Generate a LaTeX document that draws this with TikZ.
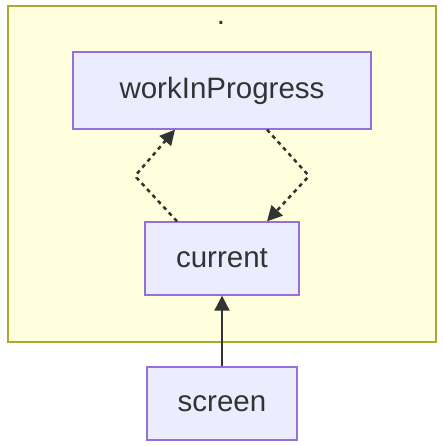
\documentclass[tikz,border=0pt]{standalone}
\usepackage{fontspec}
\setmainfont{Liberation Sans}
\usetikzlibrary{arrows.meta}
\definecolor{clfill}{HTML}{FFFFDE}
\definecolor{cldraw}{HTML}{AAAA33}
\definecolor{ndfill}{HTML}{ECECFF}
\definecolor{nddraw}{HTML}{9370DB}
\definecolor{edge}{HTML}{333333}
\tikzset{
  nodebox/.style={draw=nddraw, fill=ndfill, line width=1.3pt, inner sep=0pt, text=edge, font=\fontsize{29.5}{34}\selectfont},
  dotted edge/.style={draw=edge, line width=2.5pt, dash pattern=on 4pt off 4pt, rounded corners=2pt, -{Triangle[length=15pt,width=15pt]}},
  solid edge/.style={draw=edge, line width=2pt, -{Triangle[length=15pt,width=15pt]}},
}
\begin{document}
\begin{tikzpicture}[x=1pt,y=-1pt]
\useasboundingbox (0,0) rectangle (443,446);
\fill[white] (0,0) rectangle (443,446);
\draw[draw=cldraw, fill=clfill, line width=1.3pt] (8,6) rectangle (436,342);
\node[text=edge, font=\fontsize{29.5}{34}\selectfont, anchor=base, inner sep=0pt] (title) at (221,24.5) {.};
\node[nodebox, minimum width=298pt, minimum height=77pt] (wip) at (222,90.5) {workInProgress};
\node[nodebox, minimum width=154pt, minimum height=73pt] (cur) at (222,258.5) {current};
\node[nodebox, minimum width=150pt, minimum height=73pt] (scr) at (222,403.5) {screen};
\coordinate (wl) at (135,176);
\coordinate (wr) at (309,176);
\draw[dotted edge] (cur.north -| 177,0) -- (wl) -- (wip.south -| 175,0);
\draw[dotted edge] (wip.south -| 267,0) -- (wr) -- (cur.north -| 267,0);
\draw[solid edge] (scr.north) -- (cur.south);
\end{tikzpicture}
\end{document}
